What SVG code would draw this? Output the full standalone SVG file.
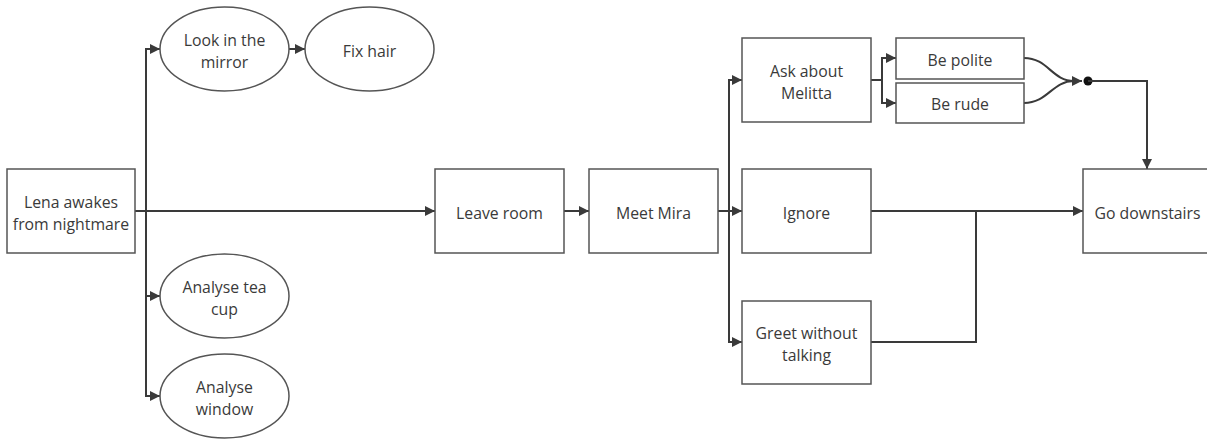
<svg xmlns="http://www.w3.org/2000/svg" width="1207" height="440" viewBox="0 0 1207 440">
<style>
.n{fill:#fff;stroke:#555;stroke-width:1.5}
.t{font-family:"Open Sans",sans-serif;font-size:15.8px;fill:#3a3a3a;text-anchor:middle;dominant-baseline:central}
.c{fill:none;stroke:#3a3a3a;stroke-width:2}
</style>
<defs>
<marker id="a" viewBox="0 0 10 10" refX="10" refY="5" markerWidth="5" markerHeight="5" orient="auto" markerUnits="strokeWidth">
<path d="M0,0 L10,5 L0,10 z" fill="#3a3a3a"/>
</marker>
</defs>
<rect width="1207" height="440" fill="#fff"/>
<g id="connectors">
<path class="c" d="M135,211 H435" marker-end="url(#a)"/>
<path class="c" d="M146,211 V49 H160" marker-end="url(#a)"/>
<path class="c" d="M146,211 V296 H160" marker-end="url(#a)"/>
<path class="c" d="M146,211 V396 H160" marker-end="url(#a)"/>
<path class="c" d="M289,49 H305" marker-end="url(#a)"/>
<path class="c" d="M564,211 H589" marker-end="url(#a)"/>
<path class="c" d="M718,211 H742" marker-end="url(#a)"/>
<path class="c" d="M729,211 V80 H742" marker-end="url(#a)"/>
<path class="c" d="M729,211 V342 H742" marker-end="url(#a)"/>
<path class="c" d="M871,80 H882 V58 H896" marker-end="url(#a)"/>
<path class="c" d="M882,80 V103 H896" marker-end="url(#a)"/>
<path class="c" d="M1024,58 C1048,58 1052,81 1074,81 H1082" marker-end="url(#a)"/>
<path class="c" d="M1024,103 C1048,103 1052,81 1074,81"/>
<circle cx="1088" cy="81" r="4.5" fill="#111"/>
<path class="c" d="M1088,81 H1147 V169" marker-end="url(#a)"/>
<path class="c" d="M871,211 H1083" marker-end="url(#a)"/>
<path class="c" d="M871,342 H976 V211"/>
</g>
<g id="lena"><rect class="n" x="7" y="169" width="128" height="84"/><text class="t" x="71" y="201.5">Lena awakes</text><text class="t" x="71" y="223.5">from nightmare</text></g>
<g id="mirror"><ellipse class="n" cx="224.5" cy="49" rx="64.5" ry="42"/><text class="t" x="224.5" y="39.5">Look in the</text><text class="t" x="224.5" y="61.5">mirror</text></g>
<g id="hair"><ellipse class="n" cx="369.5" cy="49" rx="64.5" ry="42"/><text class="t" x="369.5" y="50.5">Fix hair</text></g>
<g id="teacup"><ellipse class="n" cx="224.5" cy="296" rx="64.5" ry="42"/><text class="t" x="224.5" y="286.5">Analyse tea</text><text class="t" x="224.5" y="308.5">cup</text></g>
<g id="window"><ellipse class="n" cx="224.5" cy="396" rx="64.5" ry="42"/><text class="t" x="224.5" y="386.5">Analyse</text><text class="t" x="224.5" y="408.5">window</text></g>
<g id="leave"><rect class="n" x="435" y="169" width="129" height="84"/><text class="t" x="499.5" y="212.5">Leave room</text></g>
<g id="mira"><rect class="n" x="589" y="169" width="129" height="84"/><text class="t" x="653.5" y="212.5">Meet Mira</text></g>
<g id="ask"><rect class="n" x="742" y="38" width="129" height="84"/><text class="t" x="806.5" y="70.5">Ask about</text><text class="t" x="806.5" y="92.5">Melitta</text></g>
<g id="ignore"><rect class="n" x="742" y="169" width="129" height="84"/><text class="t" x="806.5" y="212.5">Ignore</text></g>
<g id="greet"><rect class="n" x="742" y="301" width="129" height="83"/><text class="t" x="806.5" y="332.5">Greet without</text><text class="t" x="806.5" y="354.5">talking</text></g>
<g id="polite"><rect class="n" x="896" y="38" width="128" height="41"/><text class="t" x="960" y="60">Be polite</text></g>
<g id="rude"><rect class="n" x="896" y="83" width="128" height="40"/><text class="t" x="960" y="104">Be rude</text></g>
<g id="downstairs"><rect class="n" x="1083" y="169" width="129" height="84"/><text class="t" x="1147.5" y="212.5">Go downstairs</text></g>
</svg>
